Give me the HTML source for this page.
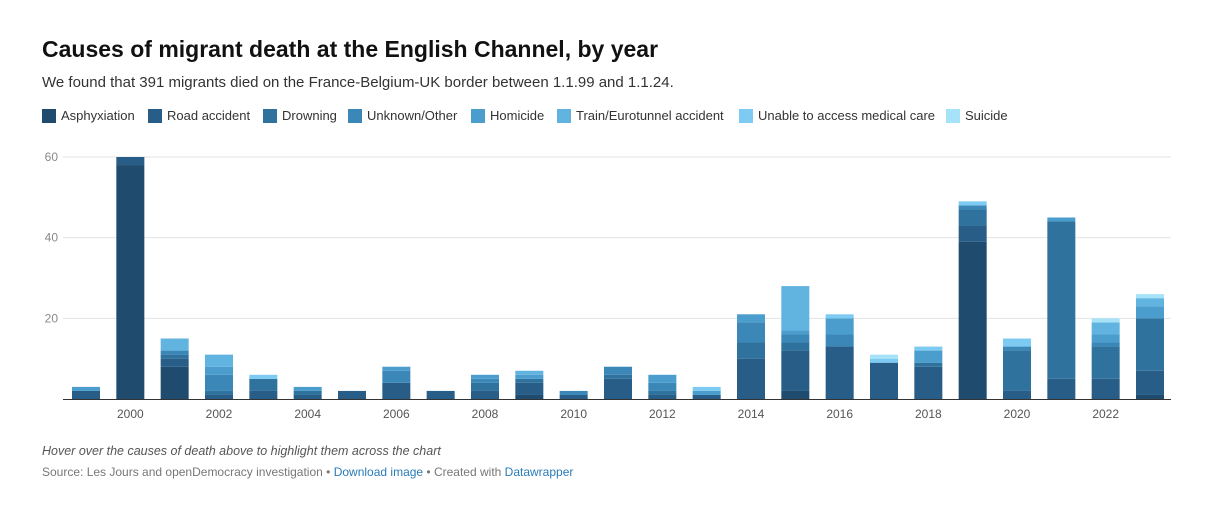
<!DOCTYPE html>
<html><head><meta charset="utf-8"><style>
body{margin:0;background:#fff;font-family:"Liberation Sans",sans-serif;width:1209px;height:511px;position:relative;overflow:hidden}
.abs{position:absolute;white-space:nowrap}
.lg{position:absolute;top:109px;height:14px;font-size:13px;color:#333;line-height:14px;white-space:nowrap}
.lg i{display:inline-block;width:14px;height:14px;vertical-align:top;margin-right:5px}
</style></head><body>
<div class="abs" style="left:42px;top:36px;font-size:23px;font-weight:bold;color:#111">Causes of migrant death at the English Channel, by year</div>
<div class="abs" style="left:42px;top:74px;font-size:15px;color:#333">We found that 391 migrants died on the France-Belgium-UK border between 1.1.99 and 1.1.24.</div>
<div id="legend"></div>
<svg id="chart" width="1209" height="511" style="position:absolute;left:0;top:0"></svg>
<div class="abs" style="left:42px;top:444px;font-size:12.5px;font-style:italic;color:#555">Hover over the causes of death above to highlight them across the chart</div>
<div class="abs" style="left:42px;top:465px;font-size:12px;color:#777">Source: Les Jours and openDemocracy investigation • <span style="color:#2a7bb8">Download image</span> • Created with <span style="color:#2a7bb8">Datawrapper</span></div>
<script>
const years=[1999,2000,2001,2002,2003,2004,2005,2006,2007,2008,2009,2010,2011,2012,2013,2014,2015,2016,2017,2018,2019,2020,2021,2022,2023];
const seriesNames=["Asphyxiation","Road accident","Drowning","Unknown/Other","Homicide","Train/Eurotunnel accident","Unable to access medical care","Suicide"];
const asphyxiation=[0,58,8,0,0,0,0,0,0,0,1,0,0,0,0,0,2,0,0,0,39,0,0,0,1];
const roadAccident=[2,2,2,1,2,1,2,4,2,2,3,1,5,1,1,10,10,13,9,8,4,2,5,5,6];
const drowning=[0,0,1,1,3,1,0,0,0,2,1,0,1,1,0,4,2,0,0,1,4,10,39,8,13];
const unknownOther=[0,0,1,4,0,0,0,3,0,1,0,1,2,2,0,5,2,3,0,0,1,1,0,1,0];
const homicide=[1,0,0,2,0,1,0,1,0,1,1,0,0,2,1,2,1,4,0,3,0,0,1,2,3];
const train=[0,0,3,3,0,0,0,0,0,0,1,0,0,0,0,0,11,0,0,0,0,0,0,3,2];
const medical=[0,0,0,0,1,0,0,0,0,0,0,0,0,0,1,0,0,1,1,1,1,2,0,0,0];
const suicide=[0,0,0,0,0,0,0,0,0,0,0,0,0,0,0,0,0,0,1,0,0,0,0,1,1];
const yTicks=[0,20,40,60];
const series=[asphyxiation,roadAccident,drowning,unknownOther,homicide,train,medical,suicide];
const colors=["#1f4b6f","#275d87","#30729e","#3b87b7","#4a9dcd","#61b3e0","#7dcbf2","#a6e2f8"];
const legendX=[42,148,263,348,471,557,739,946];
const NS="http://www.w3.org/2000/svg";
const svg=document.getElementById('chart');
const x0=63,x1=1171,yBase=399,yTop=157;
const y=v=>yBase-(v/60)*(yBase-yTop);
const xc=i=>86+i*(1150-86)/(years.length-1);
const bw=28;
const lg=document.getElementById('legend');
seriesNames.forEach((n,k)=>{
  const d=document.createElement('div');d.className='lg';d.style.left=legendX[k]+'px';
  
  
  d.innerHTML='<i style="background:'+colors[k]+'"></i>'+n;lg.appendChild(d);
});
yTicks.forEach(t=>{
  if(t>0){const l=document.createElementNS(NS,'line');
  l.setAttribute('x1',x0);l.setAttribute('x2',x1);l.setAttribute('y1',y(t));l.setAttribute('y2',y(t));
  l.setAttribute('stroke','#e3e3e3');
  
  
  svg.appendChild(l);}
  const tx=document.createElementNS(NS,'text');
  if(t>0){tx.setAttribute('x',58);tx.setAttribute('y',y(t)+4);tx.setAttribute('text-anchor','end');
  tx.setAttribute('font-size','12');tx.setAttribute('fill','#888');tx.textContent=t;
  
  
  svg.appendChild(tx);}
});
years.forEach((yr,i)=>{
  let acc=0;
  series.forEach((s,k)=>{
    const v=s[i];if(!v)return;
    const r=document.createElementNS(NS,'rect');
    r.setAttribute('x',xc(i)-bw/2);r.setAttribute('width',bw);
    r.setAttribute('y',y(acc+v));r.setAttribute('height',y(acc)-y(acc+v));
    r.setAttribute('fill',colors[k]);
    
    
    svg.appendChild(r);acc+=v;
  });
  if(yr%2===0){
    const tx=document.createElementNS(NS,'text');
    tx.setAttribute('x',xc(i));tx.setAttribute('y',418);tx.setAttribute('text-anchor','middle');
    tx.setAttribute('font-size','12');tx.setAttribute('fill','#555');tx.textContent=yr;
    
    
    svg.appendChild(tx);
  }
});
const ax=document.createElementNS(NS,'line');
ax.setAttribute('x1',x0);ax.setAttribute('x2',x1);ax.setAttribute('y1',yBase+0.5);ax.setAttribute('y2',yBase+0.5);
ax.setAttribute('stroke','#333');


svg.appendChild(ax);
</script>
</body></html>
